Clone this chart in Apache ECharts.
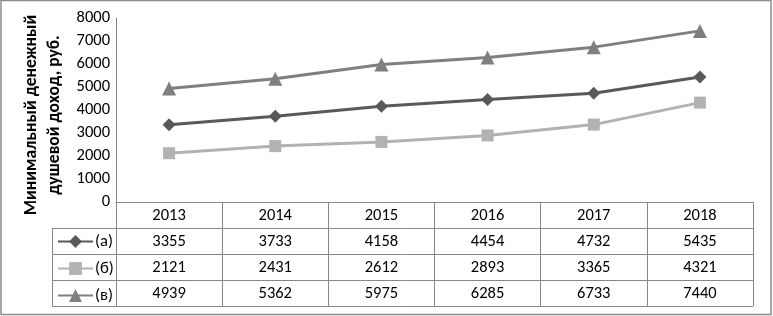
<!DOCTYPE html>
<html>
<head>
<meta charset="utf-8">
<script src="https://cdn.jsdelivr.net/npm/echarts@6/dist/echarts.min.js"></script>
<style>
  html, body { margin: 0; padding: 0; background: #fff; }
  #chart { width: 773px; height: 316px; }
</style>
</head>
<body>
<div id="chart"></div>
<script>
// данные
const years = ['2013', '2014', '2015', '2016', '2017', '2018']
const seriesA = [3355, 3733, 4158, 4454, 4732, 5435]
const seriesB = [2121, 2431, 2612, 2893, 3365, 4321]
const seriesV = [4939, 5362, 5975, 6285, 6733, 7440]
const names = ['(а)', '(б)', '(в)']
const yTitle = 'Минимальный денежный\nдушевой доход, руб.'

const font = 'Carlito, Calibri, "Liberation Sans", Arial, sans-serif'
const fs = 16.5
const gridCol = '#878787'

// extra category axes act as the data table rows
function tableRow(data, offset) {
  return {
    type: 'category',
    position: 'bottom',
    offset: offset,
    data: data.map(String),
    axisLine: { show: false },
    axisTick: { show: false },
    axisLabel: { color: '#000', fontSize: fs, fontFamily: font, margin: 5 }
  }
}

let myChart = echarts.init(document.getElementById('chart'))
myChart.setOption({
  animation: false,
  textStyle: { fontFamily: font },
  grid: { left: 116, right: 20, top: 18, bottom: 114, containLabel: false },
  legend: {
    orient: 'vertical',
    left: 57,
    top: 233,
    padding: 0,
    itemGap: 10,
    itemWidth: 35,
    itemHeight: 16,
    textStyle: { color: '#000', fontSize: fs, fontFamily: font, lineHeight: 16, padding: [0, 0, 0, -3] },
    data: names
  },
  xAxis: [
    {
      type: 'category',
      data: years,
      boundaryGap: true,
      axisLine: { lineStyle: { color: gridCol, width: 1 } },
      axisTick: { show: true, length: 104, lineStyle: { color: gridCol } },
      axisLabel: { color: '#000', fontSize: fs, fontFamily: font, margin: 5 }
    },
    tableRow(seriesA, 26),
    tableRow(seriesB, 52),
    tableRow(seriesV, 78)
  ],
  yAxis: {
    type: 'value',
    min: 0,
    max: 8000,
    interval: 1000,
    name: yTitle,
    nameLocation: 'middle',
    nameGap: 40,
    nameTextStyle: { color: '#000', fontSize: 17.5, fontWeight: 'bold', fontFamily: font, lineHeight: 23, padding: [0, 10, 0, 0] },
    axisLine: { show: true, lineStyle: { color: gridCol } },
    axisTick: { show: false },
    axisLabel: { color: '#000', fontSize: fs, fontFamily: font, margin: 6, formatter: v => String(v) },
    splitLine: { show: false }
  },
  series: [
    {
      name: names[0],
      type: 'line',
      data: seriesA,
      symbol: 'diamond',
      symbolSize: 13,
      lineStyle: { color: '#595959', width: 3 },
      itemStyle: { color: '#595959' }
    },
    {
      name: names[1],
      type: 'line',
      data: seriesB,
      symbol: 'rect',
      symbolSize: 12,
      lineStyle: { color: '#b2b2b2', width: 3 },
      itemStyle: { color: '#b2b2b2' }
    },
    {
      name: names[2],
      type: 'line',
      data: seriesV,
      symbol: 'triangle',
      symbolSize: 14,
      lineStyle: { color: '#7f7f7f', width: 3 },
      itemStyle: { color: '#7f7f7f' }
    }
  ],
  graphic: [
    // table borders
    { type: 'line', shape: { x1: 52, y1: 228.5, x2: 753, y2: 228.5 }, style: { stroke: gridCol, lineWidth: 1 } },
    { type: 'line', shape: { x1: 52, y1: 254.5, x2: 753, y2: 254.5 }, style: { stroke: gridCol, lineWidth: 1 } },
    { type: 'line', shape: { x1: 52, y1: 280.5, x2: 753, y2: 280.5 }, style: { stroke: gridCol, lineWidth: 1 } },
    { type: 'line', shape: { x1: 52, y1: 306.5, x2: 753, y2: 306.5 }, style: { stroke: gridCol, lineWidth: 1 } },
    { type: 'line', shape: { x1: 52.5, y1: 228, x2: 52.5, y2: 307 }, style: { stroke: gridCol, lineWidth: 1 } },
    // outer frame
    { type: 'rect', shape: { x: 1, y: 0.5, width: 770, height: 314 }, style: { fill: null, stroke: '#8c8c8c', lineWidth: 1.5 } }
  ]
})
</script>
</body>
</html>
